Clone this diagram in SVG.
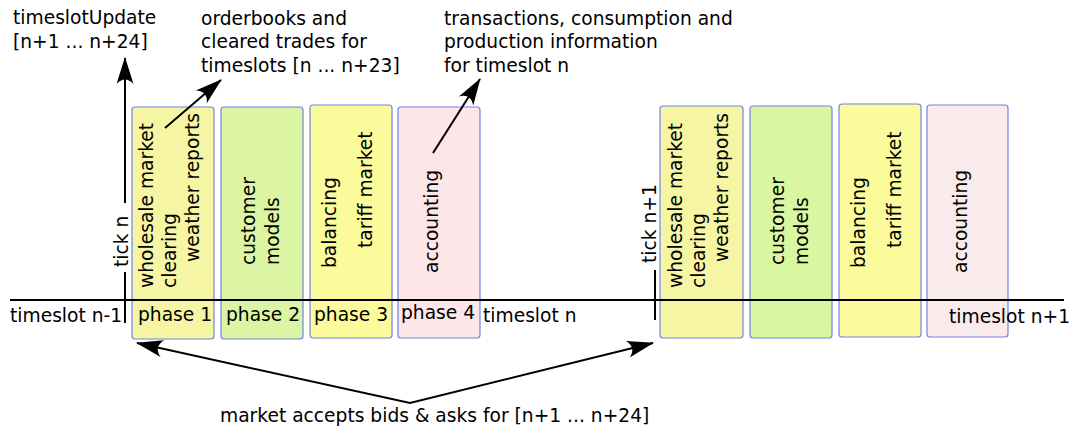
<svg xmlns="http://www.w3.org/2000/svg" width="1074" height="428" viewBox="0 0 1074 428">
<defs>
<style>
text{font-family:"DejaVu Sans","Liberation Sans",sans-serif;font-size:18.67px;fill:#000}
.box{stroke:#7282e6;stroke-width:1.2}
.ln{stroke:#000;stroke-width:2;fill:none}
</style>
<marker id="ah" markerUnits="userSpaceOnUse" markerWidth="30" markerHeight="20" refX="0" refY="0" orient="auto-start-reverse" overflow="visible">
<path d="M1,0 L-26,-8.5 C-20,-3 -20,3 -26,8.5 Z" fill="#000"/>
</marker>
</defs>
<rect width="1074" height="428" fill="#fff"/>

<g id="phase1-n">
<rect class="box" x="132" y="107" width="82" height="232" rx="3" fill="#f5f5a3"/>
<text transform="translate(153,288) rotate(-90)">wholesale market</text>
<text transform="translate(176,288) rotate(-90)">clearing</text>
<text transform="translate(199,262) rotate(-90)">weather reports</text>
<text x="138" y="321">phase 1</text>
</g>
<g id="phase2-n">
<rect class="box" x="221" y="107" width="82" height="232" rx="3" fill="#dcf5a3"/>
<text transform="translate(255,265) rotate(-90)">customer</text>
<text transform="translate(279,265) rotate(-90)">models</text>
<text x="226" y="321">phase 2</text>
</g>
<g id="phase3-n">
<rect class="box" x="310" y="105" width="82" height="233" rx="3" fill="#fbfb9b"/>
<text transform="translate(336,268) rotate(-90)">balancing</text>
<text transform="translate(372,248) rotate(-90)">tariff market</text>
<text x="314" y="321">phase 3</text>
</g>
<g id="phase4-n">
<rect class="box" x="398" y="107" width="82" height="231" rx="3" fill="#fce6e8"/>
<text transform="translate(438,273) rotate(-90)">accounting</text>
<text x="401" y="319">phase 4</text>
</g>

<g id="phase1-n1">
<rect class="box" x="660" y="106" width="83" height="232" rx="3" fill="#f5f5a3"/>
<text transform="translate(682,288) rotate(-90)">wholesale market</text>
<text transform="translate(705,288) rotate(-90)">clearing</text>
<text transform="translate(728,262) rotate(-90)">weather reports</text>
</g>
<g id="phase2-n1">
<rect class="box" x="750" y="106" width="82" height="232" rx="3" fill="#d9f7a0"/>
<text transform="translate(784,265) rotate(-90)">customer</text>
<text transform="translate(808,265) rotate(-90)">models</text>
</g>
<g id="phase3-n1">
<rect class="box" x="839" y="104" width="82" height="233" rx="3" fill="#fbfb9b"/>
<text transform="translate(865,268) rotate(-90)">balancing</text>
<text transform="translate(901,248) rotate(-90)">tariff market</text>
</g>
<g id="phase4-n1">
<rect class="box" x="927" y="105" width="81" height="232" rx="3" fill="#f9ebeb"/>
<text transform="translate(967,273) rotate(-90)">accounting</text>
</g>

<g id="labels">
<text x="13" y="24">timeslotUpdate</text>
<text x="13" y="48">[n+1 ... n+24]</text>
<text x="201" y="25">orderbooks and</text>
<text x="201" y="48">cleared trades for</text>
<text x="201" y="72">timeslots [n ... n+23]</text>
<text x="444" y="25">transactions, consumption and</text>
<text x="444" y="48">production information</text>
<text x="444" y="72">for timeslot n</text>
<text transform="translate(128,267) rotate(-90)">tick n</text>
<text transform="translate(656,263) rotate(-90)">tick n+1</text>
<text x="10" y="322">timeslot n-1</text>
<text x="483" y="322">timeslot n</text>
<text x="949" y="323">timeslot n+1</text>
<text x="220" y="422">market accepts bids &amp; asks for [n+1 ... n+24]</text>
</g>

<g id="connectors">
<line class="ln" x1="10" y1="300" x2="1064" y2="300"/>
<line class="ln" x1="125" y1="272" x2="125" y2="323"/>
<line class="ln" x1="655" y1="270" x2="655" y2="320"/>
<line class="ln" x1="125" y1="203" x2="125" y2="58" marker-end="url(#ah)"/>
<line class="ln" x1="165" y1="128" x2="221" y2="80" marker-end="url(#ah)"/>
<line class="ln" x1="433" y1="153" x2="480" y2="79" marker-end="url(#ah)"/>
<polyline class="ln" points="137,343 410,403 653,343" marker-start="url(#ah)" marker-end="url(#ah)"/>
</g>
</svg>
